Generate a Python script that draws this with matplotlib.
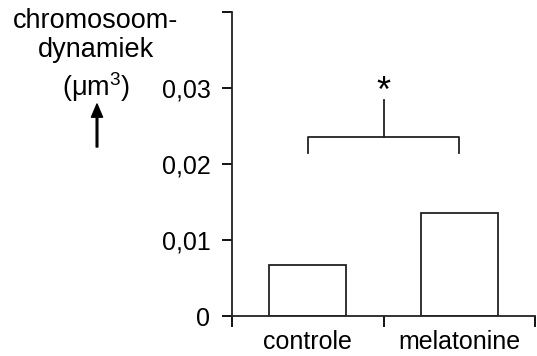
import matplotlib
matplotlib.use("Agg")
import matplotlib.pyplot as plt

plt.rcParams["font.family"] = ["Liberation Sans", "DejaVu Sans"]
plt.rcParams["mathtext.fontset"] = "custom"
plt.rcParams["mathtext.rm"] = "Liberation Sans"

# Data
categories = ["controle", "melatonine"]
values = [0.0067, 0.0135]
y_ticks = [0, 0.01, 0.02, 0.03, 0.04]
y_tick_labels = ["0", "0,01", "0,02", "0,03", ""]
ylabel_lines = ["chromosoom-", "dynamiek", "(\u03bcm$^{3}$)"]

# significance bracket (data units)
bracket_y = 0.0235
stem_top = 0.0284

fs = 18

fig = plt.figure(figsize=(5.37, 3.56), dpi=100)
ax = fig.add_axes([232 / 537, 1 - 316 / 356, (535 - 232) / 537, (316 - 12) / 356])

x_pos = [0.5, 1.5]
ax.bar(x_pos, values, width=0.51, facecolor="white", edgecolor="#222222", linewidth=1.3)

ax.set_xlim(0, 2)
ax.set_ylim(0, 0.04)
ax.set_yticks(y_ticks)
ax.set_yticklabels(y_tick_labels, fontsize=fs)
ax.set_xticks([0, 1, 2])
ax.set_xticklabels([])
ax.set_xticks(x_pos, minor=True)
ax.set_xticklabels(categories, minor=True, fontsize=fs)
ax.tick_params(axis="x", which="minor", length=0, pad=10)
ax.tick_params(axis="x", which="major", length=8, width=1.3, direction="out")
ax.tick_params(axis="y", length=7.5, width=1.3, pad=8, direction="out")

for s in ["top", "right"]:
    ax.spines[s].set_visible(False)
for s in ["left", "bottom"]:
    ax.spines[s].set_linewidth(1.3)
    ax.spines[s].set_color("#222222")
    ax.spines[s].set_clip_on(False)

# bracket
ax.plot([x_pos[0], x_pos[0], x_pos[1], x_pos[1]],
        [bracket_y - 0.002, bracket_y, bracket_y, bracket_y - 0.002],
        color="#222222", lw=1.3, clip_on=False)
ax.plot([1, 1], [bracket_y, stem_top], color="#222222", lw=1.3)
ax.text(1, 0.0282, "*", ha="center", va="baseline", fontsize=26)

# y label as stacked text + arrow
baselines = [28, 57, 96]
for line, yb in zip(ylabel_lines, baselines):
    fig.text(96 / 537, 1 - yb / 356, line, ha="center", va="baseline", fontsize=19.5)
ax.annotate("", xy=(97 / 537, 1 - 104 / 356), xytext=(97 / 537, 1 - 147 / 356),
            xycoords="figure fraction", textcoords="figure fraction",
            arrowprops=dict(facecolor="black", edgecolor="black", width=1.2,
                            headwidth=8, headlength=9.5, shrink=0))

fig.savefig("out.png", dpi=100)
